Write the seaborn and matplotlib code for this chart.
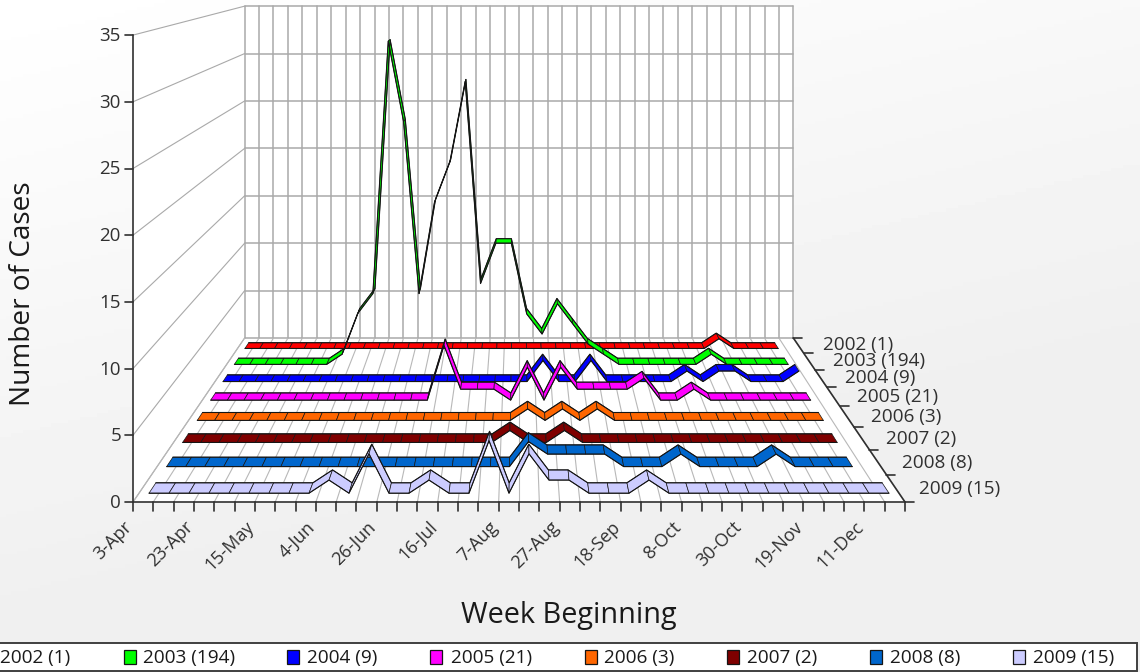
import matplotlib
matplotlib.use("Agg")
import matplotlib.pyplot as plt
import numpy as np
import pandas as pd
import seaborn as sns

sns.set_theme(style="white")
plt.rcParams['font.family'] = ['Open Sans', 'DejaVu Sans']

# data, one value per week
week_labels = ["3-Apr", "23-Apr", "15-May", "4-Jun", "26-Jun", "16-Jul", "7-Aug",
               "27-Aug", "18-Sep", "8-Oct", "30-Oct", "19-Nov", "11-Dec"]
y_ticks = [0, 5, 10, 15, 20, 25, 30, 35]
series_names = ["2002 (1)", "2003 (194)", "2004 (9)", "2005 (21)",
                "2006 (3)", "2007 (2)", "2008 (8)", "2009 (15)"]
cases_2002 = [0]*32 + [1] + [0]*4
cases_2003 = [0, 0, 0, 0, 0, 0, 0, 1, 5, 7, 32, 24, 7, 16, 20, 28, 8, 12, 12, 5, 3, 6, 4, 2, 1,
              0, 0, 0, 0, 0, 0, 1, 0, 0, 0, 0, 0]
cases_2004 = [0]*20 + [2, 0, 0, 2, 0, 0, 0, 0, 0, 1, 0, 1, 1, 0, 0, 0, 1]
cases_2005 = [0]*14 + [5, 1, 1, 1, 0, 3, 0, 3, 1, 1, 1, 1, 2, 0, 0, 1, 0, 0, 0, 0, 0, 0, 0]
cases_2006 = [0]*19 + [1, 0, 1, 0, 1] + [0]*13
cases_2007 = [0]*18 + [1, 0, 0, 1] + [0]*15
cases_2008 = [0]*19 + [2, 1, 1, 1, 1, 0, 0, 0, 1, 0, 0, 0, 0, 1, 0, 0, 0, 0]
cases_2009 = [0]*9 + [1, 0, 3, 0, 0, 1, 0, 0, 4, 0, 3, 1, 1, 0, 0, 0, 1] + [0]*12
all_cases = [cases_2002, cases_2003, cases_2004, cases_2005,
             cases_2006, cases_2007, cases_2008, cases_2009]
colors = sns.color_palette(["#ff0000", "#00ff00", "#0000ff", "#ff00ff",
                            "#ff6600", "#7f0000", "#0066cc", "#ccccff"])

n_weeks = 38
n_series = 8

# perspective of the 3d box
x_left, x_right = 133, 905
y_floor = 502
px_per_case = 13.34
px_per_week = (x_right - x_left) / n_weeks
van_x, van_y = 519, -65
depth_k = 0.0508


def project(week, value, depth):
    week, value, depth = np.broadcast_arrays(np.asarray(week, dtype=float), np.asarray(value, dtype=float),
                                             np.asarray(depth, dtype=float))
    s = 1 / (1 + depth_k * depth)
    xf = x_left + px_per_week * week
    yf = y_floor - px_per_case * value
    return van_x + (xf - van_x) * s, van_y + (yf - van_y) * s


fig = plt.figure(figsize=(11.4, 6.72), dpi=100)
ax = fig.add_axes([0, 0, 1, 1])

# background gradient
gx, gy = np.meshgrid(np.linspace(0, 1, 200), np.linspace(0, 1, 200))
ax.imshow(1 - 0.06*np.clip(0.45*gx + 1.1*gy, 0, 1), cmap="gray", vmin=0, vmax=1,
          extent=[0, 1140, 672, 0], aspect="auto", zorder=0)

# walls and floor
back_depth = n_series
px, py = project([0, 0, n_weeks, n_weeks], [35, 0, 0, 35], back_depth)
ax.fill(px, py, color="white", zorder=1)
px, py = project([0, n_weeks, n_weeks, 0], 0, [0, 0, back_depth, back_depth])
ax.fill(px, py, color="white", zorder=1)
px, py = project([0, 0, 0, 0], [0, 35, 35, 0], [0, 0, back_depth, back_depth])
ax.fill(px, py, color="white", zorder=1)

grid_col = "#a9a9a9"
for v in y_ticks:
    px, py = project([0, n_weeks], v, back_depth)
    ax.plot(px, py, color=grid_col, lw=1.1, zorder=2)
    px, py = project(0, v, [0, back_depth])
    ax.plot(px, py, color=grid_col, lw=0.8, zorder=2)
for w in range(n_weeks + 1):
    px, py = project(w, [0, 35], back_depth)
    ax.plot(px, py, color=grid_col, lw=1.1, zorder=2)
    px, py = project(w, 0, [0, back_depth])
    ax.plot(px, py, color="#b8b8b8", lw=0.8, zorder=2)

# axes lines and ticks
axis_col = "#303030"
px, py = project(0, [0, 35], 0)
ax.plot(px, py, color=axis_col, lw=1.2, zorder=3)
px, py = project([0, n_weeks], 0, 0)
ax.plot(px, py, color=axis_col, lw=1.2, zorder=3)
px, py = project(n_weeks, 0, [0, back_depth])
ax.plot(px, py, color=axis_col, lw=1.2, zorder=3)
for v in y_ticks:
    px, py = project(0, v, 0)
    ax.plot([px - 8, px], [py, py], color=axis_col, lw=1.2, zorder=3)
    ax.text(px - 12, py + 1, str(v), ha="right", va="center", fontsize=13.5, color="#303030")
for w in range(n_weeks + 1):
    px, py = project(w, 0, 0)
    ax.plot([px, px], [py, py + 9], color=axis_col, lw=1.2, zorder=3)
for d in range(n_series + 1):
    px, py = project(n_weeks, 0, d)
    ax.plot([px, px + 9], [py, py], color=axis_col, lw=1.2, zorder=3)
for i, lab in enumerate(week_labels):
    px, py = project(3*i + 0.5, 0, 0)
    ax.text(px - 20, py + 16, lab, rotation=45, ha="right", va="top", rotation_mode="anchor",
            fontsize=13, color="#303030")

# ribbons, from the back of the box to the front
for k in range(n_series):
    vals = all_cases[k]
    depth = n_series - 1 - k + 0.5
    d_front, d_back = depth - 0.19, depth + 0.19
    weeks = np.arange(len(vals)) + 0.5
    fx, fy = project(weeks, vals, d_front)
    bx, by = project(weeks, vals, d_back)
    z = 10 + k
    for j in range(len(vals) - 1):
        ax.fill([fx[j], fx[j+1], bx[j+1], bx[j]], [fy[j], fy[j+1], by[j+1], by[j]],
                facecolor=colors[k], edgecolor="#151515", lw=0.5, zorder=z)
    edges = pd.DataFrame({"px": np.r_[fx, bx], "py": np.r_[fy, by],
                          "edge": ["front"]*len(vals) + ["back"]*len(vals)})
    sns.lineplot(data=edges, x="px", y="py", units="edge", estimator=None, sort=False,
                 color="#151515", linewidth=0.8, legend=False, ax=ax, zorder=z)
    lx, ly = project(n_weeks, 0, depth)
    ax.text(lx + 24, ly + 2*k/7 - 0.5, series_names[k], ha="left", va="center", fontsize=13.7,
            color="#303030", zorder=30)

# titles
ax.text(23, 294, "Number of Cases", rotation=90, ha="center", va="center", fontsize=20.2, color="#1a1a1a")
ax.text(569, 616, "Week Beginning", ha="center", va="center", fontsize=20.8, color="#1a1a1a")

# legend box along the bottom
ax.add_patch(plt.Rectangle((-5, 643), 1142, 28, facecolor="white", edgecolor="#404040", lw=1.4, zorder=20))
swatch_x = [-20, 124, 287, 430, 585, 727, 870, 1013]
label_x = [0, 143, 307, 451, 604, 747, 890, 1033]
for k in range(n_series):
    ax.add_patch(plt.Rectangle((swatch_x[k], 650), 12, 14, facecolor=colors[k],
                               edgecolor="#151515", lw=0.9, zorder=21))
    ax.text(label_x[k], 658, series_names[k], ha="left", va="center", fontsize=13.7,
            color="#1a1a1a", zorder=21)

ax.set_xlim(0, 1140)
ax.set_ylim(672, 0)
ax.axis("off")
fig.savefig("out.png", dpi=100)
